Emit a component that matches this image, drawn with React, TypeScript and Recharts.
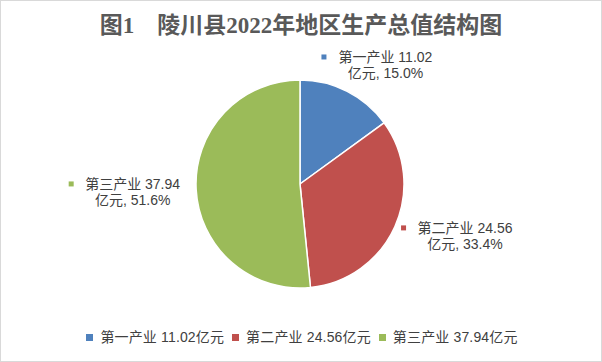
import React from 'react';
import { PieChart, Pie, Cell, Legend } from 'recharts';

const CATEGORIES = ['第一产业', '第二产业', '第三产业'];
const VALUES = [11.02, 24.56, 37.94];
const UNIT = '亿元';
const TITLE = '图1　陵川县2022年地区生产总值结构图';

const COLORS = ['#4F81BD', '#C0504D', '#9BBB59'];
const TEXT_COLOR = '#404040';
const FONT = '"Liberation Sans", "Noto Sans CJK SC", sans-serif';
const LABEL_NUDGE: [number, number][] = [
  [35.5, -29],
  [64.6, -1],
  [-57.5, -5.6],
];

const data = CATEGORIES.map((name, i) => ({ name, value: VALUES[i] }));
const RAD = Math.PI / 180;

const estWidth = (s: string, fs: number) => {
  let w = 0;
  for (const ch of s) {
    if (/[\u3000-\u9fff]/.test(ch)) w += fs;
    else if (ch === ' ' || ch === '.' || ch === ',') w += fs * 0.278;
    else if (ch === '%') w += fs * 0.889;
    else w += fs * 0.556;
  }
  return w;
};

const renderLabel = (props: any) => {
  const { cx, cy, midAngle, outerRadius, index, percent, name, value } = props;
  const r = outerRadius + 6;
  const px = cx + r * Math.cos(-midAngle * RAD);
  const py = cy + r * Math.sin(-midAngle * RAD);
  const [dx, dy] = LABEL_NUDGE[index];
  const x = px + dx;
  const y = py + dy;
  const line1 = `${name} ${Number(value).toFixed(2)}`;
  const line2 = `${UNIT}, ${(percent * 100).toFixed(1)}%`;
  const w = estWidth(line1, 14);
  const sqCx = x - w / 2 - 14;
  return (
    <g key={`lbl-${index}`}>
      <rect x={sqCx - 2.5} y={y - 2.5} width={5} height={5} fill={COLORS[index]} />
      <text x={x} y={y} textAnchor="middle" dominantBaseline="central" fontSize={14} fill={TEXT_COLOR} fontFamily={FONT}>
        {line1}
      </text>
      <text x={x} y={y + 16} textAnchor="middle" dominantBaseline="central" fontSize={14} fill={TEXT_COLOR} fontFamily={FONT}>
        {line2}
      </text>
    </g>
  );
};

const renderLegend = () => (
  <div style={{ display: 'flex', justifyContent: 'center', alignItems: 'center', fontFamily: FONT, fontSize: 14, color: TEXT_COLOR, paddingLeft: 2 }}>
    {data.map((d, i) => (
      <div key={d.name} style={{ display: 'flex', alignItems: 'center', marginRight: i < data.length - 1 ? 8 : 0 }}>
        <span style={{ display: 'inline-block', width: 7, height: 7, background: COLORS[i], marginRight: 7 }} />
        <span style={{ lineHeight: '18px', letterSpacing: 0.15 }}>{`${d.name} ${d.value.toFixed(2)}${UNIT}`}</span>
      </div>
    ))}
  </div>
);

export default function App() {
  return (
    <div style={{ position: 'absolute', left: 0, top: 0, width: 602, height: 362, background: '#fff' }}>
      <div style={{ position: 'absolute', left: 0, top: 0, width: 600, height: 360, border: '1px solid #D9D9D9' }} />
      <div
        style={{
          position: 'absolute',
          left: 0,
          top: 11,
          width: 602,
          textAlign: 'center',
          fontFamily: '"Liberation Serif", "Noto Sans CJK SC", serif',
          fontWeight: 'bold',
          fontSize: 23,
          lineHeight: '30px',
          color: '#595959',
          whiteSpace: 'nowrap',
        }}
      >
        {TITLE}
      </div>
      <PieChart
        width={602}
        height={362}
        margin={{ top: 0, right: 0, bottom: 0, left: 0 }}
        style={{ position: 'absolute', left: 0, top: 0 }}
      >
        <Pie
          data={data}
          dataKey="value"
          nameKey="name"
          cx={300}
          cy={184}
          outerRadius={104}
          startAngle={90}
          endAngle={-270}
          stroke="#fff"
          strokeWidth={1.5}
          label={renderLabel}
          labelLine={false}
          isAnimationActive={false}
        >
          {data.map((d, i) => (
            <Cell key={d.name} fill={COLORS[i]} />
          ))}
        </Pie>
        <Legend
          content={renderLegend}
          wrapperStyle={{ position: 'absolute', left: 0, top: 328, width: 602, height: 20 }}
        />
      </PieChart>
    </div>
  );
}
